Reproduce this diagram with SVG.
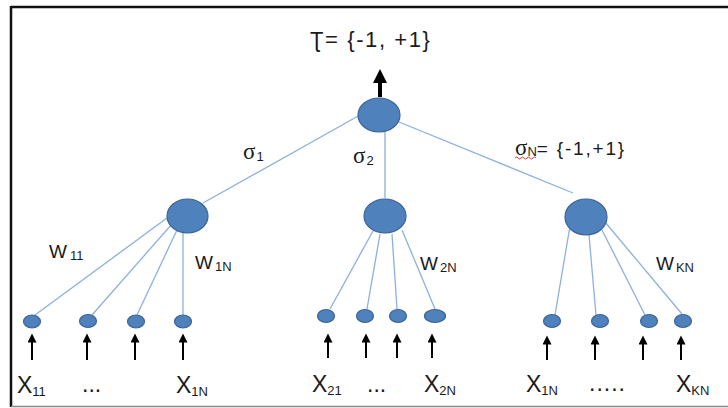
<svg xmlns="http://www.w3.org/2000/svg" width="728" height="408" viewBox="0 0 728 408">
<style>
.node{fill:#4f81bd;stroke:#3a6496;stroke-width:1.2}
.edge{stroke:#8db0dc;stroke-width:1.3;fill:none}
.arr{stroke:#000;stroke-width:2;fill:none}
.t{font-family:"Liberation Sans",Arial,sans-serif;fill:#1a1a1a}
.w{font-size:19px}
.x{font-size:23px}
.sub{font-size:13px}
.sig{font-family:"Liberation Serif","Times New Roman",serif;font-size:23px}
</style>
<defs>
<marker id="ah" viewBox="0 0 10 10" refX="5" refY="5" markerWidth="5" markerHeight="4.5" orient="auto" markerUnits="strokeWidth">
<path d="M0,0 L10,5 L0,10 z" fill="#000"/>
</marker>
<marker id="ahb" viewBox="0 0 10 10" refX="5" refY="5" markerWidth="3.5" markerHeight="3.5" orient="auto" markerUnits="strokeWidth">
<path d="M0,0 L10,5 L0,10 z" fill="#000"/>
</marker>
</defs>
<rect width="728" height="408" fill="#fff"/>
<g id="frame">
<line x1="11" y1="7" x2="728" y2="7" stroke="#111" stroke-width="2.5"/>
<line x1="11" y1="6" x2="11" y2="407" stroke="#111" stroke-width="2.5"/>
<line x1="11" y1="406.5" x2="728" y2="406.5" stroke="#888" stroke-width="1.5"/>
</g>
<g id="connectors">
<line class="edge" x1="360" y1="115" x2="203" y2="203"/>
<line class="edge" x1="385" y1="131" x2="385" y2="198"/>
<line class="edge" x1="399" y1="122" x2="573" y2="193"/>
<line class="edge" x1="35" y1="315" x2="167" y2="218"/>
<line class="edge" x1="92" y1="315" x2="172" y2="224"/>
<line class="edge" x1="137" y1="315" x2="177" y2="230"/>
<line class="edge" x1="183" y1="315" x2="183" y2="233"/>
<line class="edge" x1="330" y1="309" x2="373" y2="231"/>
<line class="edge" x1="367" y1="309" x2="380" y2="234"/>
<line class="edge" x1="397" y1="309" x2="392" y2="234"/>
<line class="edge" x1="435" y1="309" x2="402" y2="230"/>
<line class="edge" x1="555" y1="315" x2="570" y2="226"/>
<line class="edge" x1="596" y1="315" x2="589" y2="235"/>
<line class="edge" x1="645" y1="315" x2="602" y2="230"/>
<line class="edge" x1="682" y1="314" x2="605" y2="222"/>
<line x1="380" y1="97" x2="380" y2="76" stroke="#000" stroke-width="4" marker-end="url(#ahb)"/>
<line class="arr" x1="32" y1="360" x2="32" y2="338" marker-end="url(#ah)"/>
<line class="arr" x1="87" y1="360" x2="87" y2="338" marker-end="url(#ah)"/>
<line class="arr" x1="135" y1="360" x2="135" y2="338" marker-end="url(#ah)"/>
<line class="arr" x1="183" y1="360" x2="183" y2="338" marker-end="url(#ah)"/>
<line class="arr" x1="328" y1="358" x2="328" y2="338" marker-end="url(#ah)"/>
<line class="arr" x1="366" y1="358" x2="366" y2="338" marker-end="url(#ah)"/>
<line class="arr" x1="397" y1="358" x2="397" y2="338" marker-end="url(#ah)"/>
<line class="arr" x1="432" y1="358" x2="432" y2="338" marker-end="url(#ah)"/>
<line class="arr" x1="547" y1="360" x2="547" y2="340" marker-end="url(#ah)"/>
<line class="arr" x1="595" y1="360" x2="595" y2="340" marker-end="url(#ah)"/>
<line class="arr" x1="643" y1="360" x2="643" y2="340" marker-end="url(#ah)"/>
<line class="arr" x1="681" y1="360" x2="681" y2="340" marker-end="url(#ah)"/>
</g>
<g id="top"><ellipse class="node" cx="379" cy="115" rx="21" ry="17"/></g>
<g id="h1"><ellipse class="node" cx="187.5" cy="216" rx="20.5" ry="17"/></g>
<g id="h2"><ellipse class="node" cx="385" cy="216" rx="21" ry="17"/></g>
<g id="h3"><ellipse class="node" cx="586" cy="217" rx="21" ry="18"/></g>
<g id="l1"><ellipse class="node" cx="32" cy="321.5" rx="8.5" ry="6.5"/></g>
<g id="l2"><ellipse class="node" cx="88" cy="321" rx="8.5" ry="6.5"/></g>
<g id="l3"><ellipse class="node" cx="136" cy="321.5" rx="8.5" ry="6.5"/></g>
<g id="l4"><ellipse class="node" cx="183" cy="321.5" rx="8.5" ry="6.5"/></g>
<g id="m1"><ellipse class="node" cx="326" cy="316" rx="8.5" ry="6.5"/></g>
<g id="m2"><ellipse class="node" cx="365" cy="316" rx="8.5" ry="6.5"/></g>
<g id="m3"><ellipse class="node" cx="398" cy="316" rx="8.5" ry="6.5"/></g>
<g id="m4"><ellipse class="node" cx="435" cy="316" rx="10.5" ry="6.5"/></g>
<g id="r1"><ellipse class="node" cx="552" cy="321" rx="8.5" ry="6.5"/></g>
<g id="r2"><ellipse class="node" cx="600" cy="321" rx="8.5" ry="6.5"/></g>
<g id="r3"><ellipse class="node" cx="649" cy="321" rx="8.5" ry="6.5"/></g>
<g id="r4"><ellipse class="node" cx="683" cy="321" rx="8.5" ry="6.5"/></g>
<g id="labels">
<text class="t" x="310" y="47" font-size="22" letter-spacing="1.6">Ʈ= {-1, +1}</text>
<text class="t" x="243" y="159"><tspan class="sig">σ</tspan><tspan class="sub" dx="1" dy="2">1</tspan></text>
<text class="t" x="353" y="163"><tspan class="sig">σ</tspan><tspan class="sub" dx="1" dy="2">2</tspan></text>
<text class="t" x="515" y="155"><tspan class="sig" font-size="21">σ</tspan><tspan class="sub" dy="1">N</tspan><tspan dy="-1" font-size="19" letter-spacing="1.8">= {-1,+1}</tspan></text>
<path d="M515,158 q1.5,-2 3,0 t3,0 t3,0 t3,0 t3,0 t3,0 t3,0" stroke="#d22" stroke-width="0.9" fill="none"/>
<text class="t w" x="49" y="258">W<tspan class="sub" dx="3" dy="2">11</tspan></text>
<text class="t w" x="195" y="269">W<tspan class="sub" dx="2" dy="2">1N</tspan></text>
<text class="t w" x="420" y="270">W<tspan class="sub" dx="2" dy="2">2N</tspan></text>
<text class="t w" x="656" y="270">W<tspan class="sub" dx="2" dy="2">KN</tspan></text>
<text class="t x" x="17" y="393">X<tspan class="sub" dy="3">11</tspan></text>
<text class="t x" x="82" y="392">...</text>
<text class="t x" x="176" y="393">X<tspan class="sub" dy="3">1N</tspan></text>
<text class="t x" x="312" y="392">X<tspan class="sub" dy="3">21</tspan></text>
<text class="t x" x="367" y="392">...</text>
<text class="t x" x="424" y="392">X<tspan class="sub" dy="3">2N</tspan></text>
<text class="t x" x="526" y="392">X<tspan class="sub" dy="3">1N</tspan></text>
<text class="t x" x="589" y="391" letter-spacing="1">.....</text>
<text class="t x" x="676" y="392">X<tspan class="sub" dy="3">KN</tspan></text>
</g>
</svg>
